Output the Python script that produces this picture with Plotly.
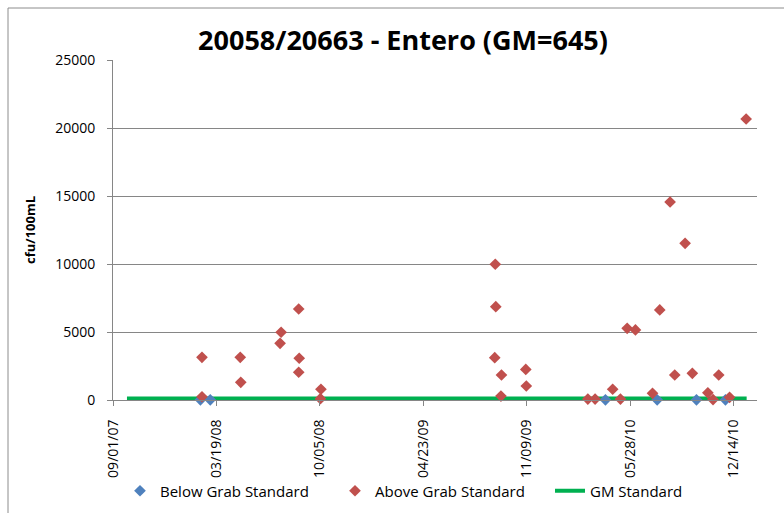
import plotly.graph_objects as go

# ---- data ----
above_dates = [
    "2008-02-20", "2008-02-20", "2008-05-04", "2008-05-05", "2008-07-22", "2008-07-20",
    "2008-08-26", "2008-08-25", "2008-08-25", "2008-10-07", "2008-10-06",
    "2009-09-09", "2009-09-10", "2009-09-08", "2009-09-21", "2009-09-20",
    "2009-11-07", "2009-11-08",
    "2010-03-07", "2010-03-21", "2010-04-24", "2010-05-09", "2010-05-22", "2010-06-07",
    "2010-07-10", "2010-07-24", "2010-08-13", "2010-08-22", "2010-09-11", "2010-09-25",
    "2010-10-25", "2010-11-04", "2010-11-15", "2010-12-06", "2011-01-07",
]
above_values = [
    3140, 240, 3140, 1300, 4980, 4170,
    3070, 2040, 6690, 790, 100,
    9980, 6860, 3110, 1840, 290,
    2250, 1030,
    70, 70, 790, 70, 5270, 5150,
    490, 6620, 14560, 1840, 11520, 1960,
    530, 30, 1840, 200, 20660,
]
below_dates = ["2008-02-17", "2008-03-07", "2010-04-10", "2010-07-19", "2010-10-03", "2010-11-28"]
below_values = [10, 10, 10, 10, 10, 10]
gm_dates = ["2007-09-28", "2011-01-08"]
gm_values = [104, 104]

tick_dates = ["2007-09-01", "2008-03-19", "2008-10-05", "2009-04-23", "2009-11-09", "2010-05-28", "2010-12-14"]
tick_labels = ["09/01/07", "03/19/08", "10/05/08", "04/23/09", "11/09/09", "05/28/10", "12/14/10"]
y_ticks = [0, 5000, 10000, 15000, 20000, 25000]
y_labels = ["0", "5000", "10000", "15000", "20000", "25000"]

FONT = "Open Sans"
GRAY = "#868686"

fig = go.Figure()
fig.add_trace(go.Scatter(x=gm_dates, y=gm_values, mode="lines", name="GM Standard",
                         line=dict(color="#00B050", width=4), legendrank=3, cliponaxis=False))
fig.add_trace(go.Scatter(x=below_dates, y=below_values, mode="markers", name="Below Grab Standard",
                         marker=dict(symbol="diamond", size=9, color="#4F81BD"), legendrank=1,
                         cliponaxis=False))
fig.add_trace(go.Scatter(x=above_dates, y=above_values, mode="markers", name="Above Grab Standard",
                         marker=dict(symbol="diamond", size=9, color="#C0504D"), legendrank=2,
                         cliponaxis=False))

W, H = 784, 513
L, R, T, B = 113, 757, 60, 400
pw, ph = R - L, B - T

def px(x):
    return (x - L) / pw

def py(y):
    return (B - y) / ph

fig.add_shape(type="rect", xref="paper", yref="paper",
              x0=px(8), x1=px(800), y0=py(530), y1=py(8),
              line=dict(color="#8C8C8C", width=1), layer="below")

fig.add_annotation(xref="paper", yref="paper", x=px(30), y=py(230), text="<b>cfu/100mL</b>",
                   textangle=-90, showarrow=False, xanchor="center", yanchor="middle",
                   font=dict(family=FONT, size=13, color="#000"))

fig.update_layout(
    width=W, height=H,
    margin=dict(l=L, r=W - R, t=T, b=H - B),
    paper_bgcolor="white", plot_bgcolor="white",
    font=dict(family=FONT, size=14, color="#000000"),
    title=dict(text="<b>20058/20663 - Entero (GM=645)</b>", xref="container", x=403 / W,
               xanchor="center", y=1 - 41 / H, yanchor="middle",
               font=dict(family=FONT, size=27, color="#000")),
    showlegend=True,
    legend=dict(orientation="h", xref="container", yref="container",
                x=120 / W, y=1 - 491 / H, xanchor="left", yanchor="middle",
                entrywidth=170, entrywidthmode="pixels", bgcolor="rgba(0,0,0,0)",
                font=dict(family=FONT, size=15)),
    xaxis=dict(type="date", range=["2007-09-01", "2011-01-28"], automargin=False,
               tickmode="array", tickvals=tick_dates, ticktext=tick_labels, tickangle=-90,
               showgrid=False, zeroline=False, showline=True, linecolor=GRAY, linewidth=1,
               ticks="outside", ticklen=5, tickcolor=GRAY, ticklabelstandoff=8,
               tickfont=dict(family=FONT, size=14)),
    yaxis=dict(range=[0, 25000], tickmode="array", tickvals=y_ticks, ticktext=y_labels,
               automargin=False,
               showgrid=True, gridcolor=GRAY, gridwidth=1, zeroline=False,
               showline=True, linecolor=GRAY, linewidth=1,
               ticks="outside", ticklen=5, tickcolor=GRAY, ticklabelstandoff=9,
               tickfont=dict(family=FONT, size=14)),
)

fig.write_html("out.html", config={"displayModeBar": False},
               post_script="document.body.style.margin='0';document.body.style.overflow='hidden';")
